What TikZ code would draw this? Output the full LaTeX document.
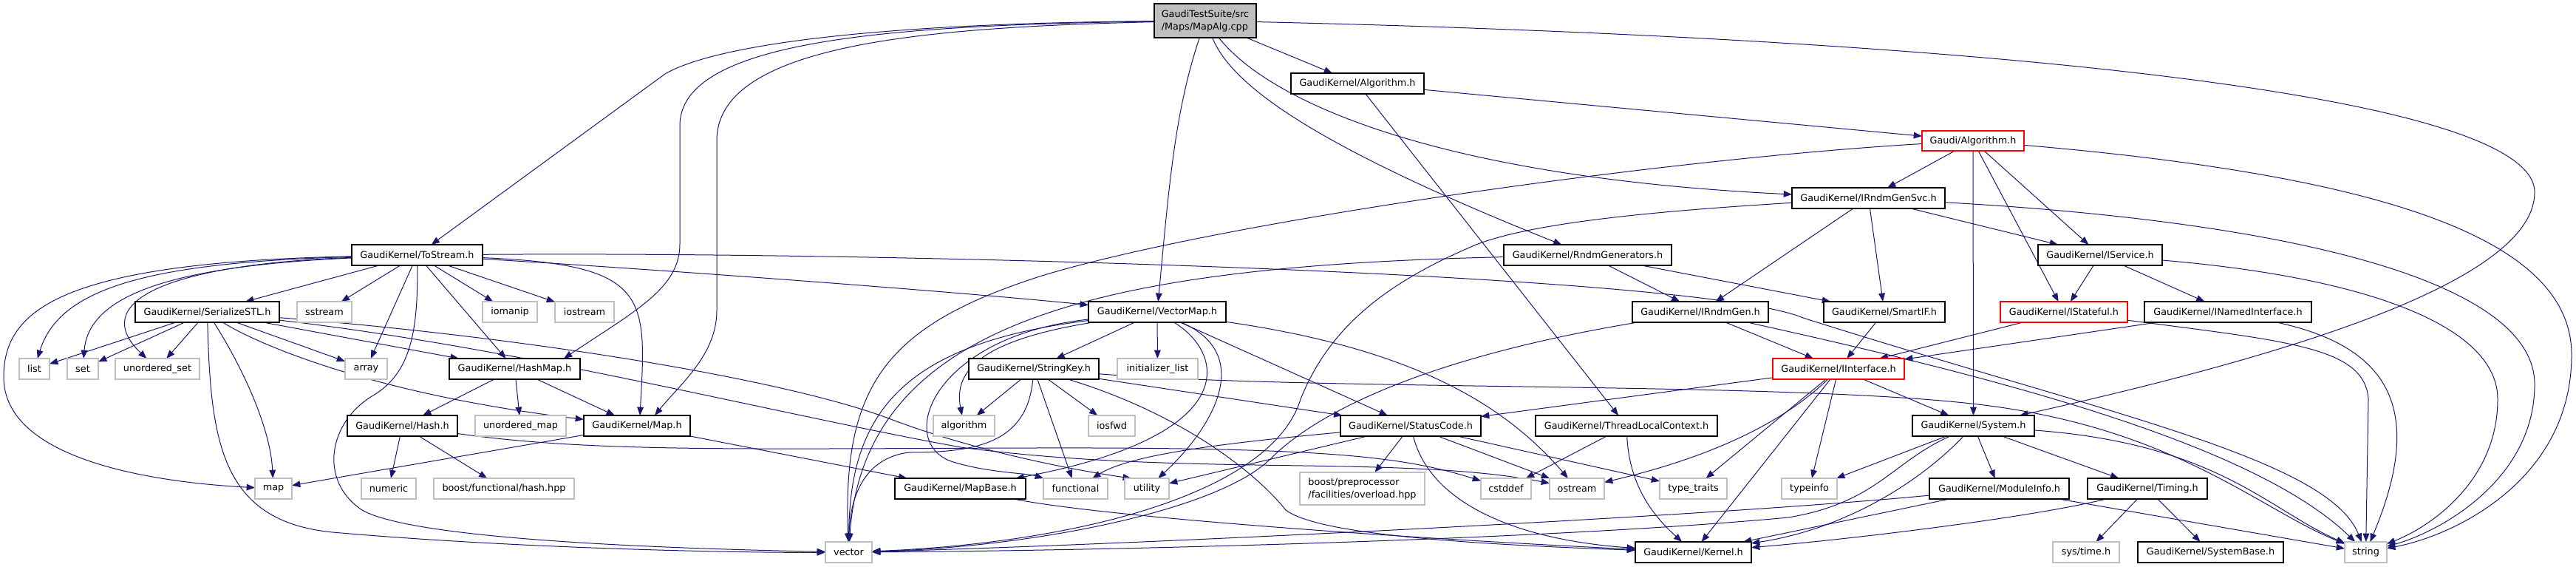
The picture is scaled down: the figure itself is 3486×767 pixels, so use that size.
\documentclass[tikz,border=0pt]{standalone}
\usepackage{fontspec}
\setmainfont{DejaVu Sans}
\usetikzlibrary{arrows.meta,backgrounds,calc}
\definecolor{edgec}{HTML}{191970}
\definecolor{greyb}{HTML}{BFBFBF}
\newcommand\gnode[7]{\node[#2, minimum width={(#5-#3)*0.75pt}, minimum height={(#6-#4)*0.75pt}] (#1) at ({(#3+#5)/2},{(#4+#6)/2}) {#7};}
\tikzset{
  nbase/.style={rectangle, inner sep=0pt, outer sep=0pt, line width=1.1pt, font=\fontsize{9.6}{12.75}\selectfont, text=black},
  docnode/.style={nbase, draw=black, fill=white},
  sysnode/.style={nbase, draw=greyb, fill=white},
  trnode/.style={nbase, draw=red, fill=white},
  rootnode/.style={nbase, draw=black, fill=greyb, align=left},
  dep/.style={draw=edgec, line width=0.75pt, -{Triangle[length=8.5pt,width=6.5pt]}},
}
\begin{document}
\begin{tikzpicture}[x=0.75pt,y=-0.75pt]
\useasboundingbox (0,0) rectangle (3486,767);
\gnode{MA}{rootnode}{1562}{5}{1700}{51}{GaudiTestSuite/src\\/Maps/MapAlg.cpp}
\gnode{GKA}{docnode}{1747}{99}{1927}{127}{GaudiKernel/Algorithm.h}
\gnode{GA}{trnode}{2601}{177}{2739}{204}{Gaudi/Algorithm.h}
\gnode{RGS}{docnode}{2425}{254}{2632}{282}{GaudiKernel/IRndmGenSvc.h}
\gnode{ISV}{docnode}{2758}{331}{2926}{359}{GaudiKernel/IService.h}
\gnode{TS}{docnode}{476}{331}{653}{359}{GaudiKernel/ToStream.h}
\gnode{RG}{docnode}{2035}{331}{2262}{359}{GaudiKernel/RndmGenerators.h}
\gnode{SER}{docnode}{183}{408}{378}{436}{GaudiKernel/SerializeSTL.h}
\gnode{sstream}{sysnode}{402}{408}{476}{436}{sstream}
\gnode{iomanip}{sysnode}{653}{408}{727}{436}{iomanip}
\gnode{iostream}{sysnode}{751}{408}{831}{436}{iostream}
\gnode{VM}{docnode}{1473}{408}{1659}{436}{GaudiKernel/VectorMap.h}
\gnode{IRG}{docnode}{2209}{408}{2393}{436}{GaudiKernel/IRndmGen.h}
\gnode{SIF}{docnode}{2468}{408}{2632}{436}{GaudiKernel/SmartIF.h}
\gnode{IST}{trnode}{2707}{408}{2879}{436}{GaudiKernel/IStateful.h}
\gnode{INI}{docnode}{2902}{408}{3128}{436}{GaudiKernel/INamedInterface.h}
\gnode{list}{sysnode}{26}{485}{67}{513}{list}
\gnode{set}{sysnode}{91}{485}{133}{513}{set}
\gnode{uset}{sysnode}{156}{485}{270}{513}{unordered\_set}
\gnode{array}{sysnode}{467}{485}{524}{513}{array}
\gnode{HM}{docnode}{608}{485}{785}{513}{GaudiKernel/HashMap.h}
\gnode{SK}{docnode}{1311}{485}{1487}{513}{GaudiKernel/StringKey.h}
\gnode{ilist}{sysnode}{1512}{485}{1621}{513}{initializer\_list}
\gnode{II}{trnode}{2399}{485}{2577}{513}{GaudiKernel/IInterface.h}
\gnode{Hash}{docnode}{470}{562}{619}{590}{GaudiKernel/Hash.h}
\gnode{umap}{sysnode}{643}{562}{766}{590}{unordered\_map}
\gnode{Map}{docnode}{790}{562}{934}{590}{GaudiKernel/Map.h}
\gnode{algorithm}{sysnode}{1263}{562}{1346}{590}{algorithm}
\gnode{iosfwd}{sysnode}{1473}{562}{1536}{590}{iosfwd}
\gnode{SC}{docnode}{1814}{562}{2004}{590}{GaudiKernel/StatusCode.h}
\gnode{TLC}{docnode}{2078}{562}{2324}{590}{GaudiKernel/ThreadLocalContext.h}
\gnode{SYS}{docnode}{2588}{562}{2753}{590}{GaudiKernel/System.h}
\gnode{map}{sysnode}{345}{647}{395}{675}{map}
\gnode{numeric}{sysnode}{489}{647}{563}{675}{numeric}
\gnode{bhash}{sysnode}{587}{647}{777}{675}{boost/functional/hash.hpp}
\gnode{MB}{docnode}{1211}{647}{1388}{675}{GaudiKernel/MapBase.h}
\gnode{functional}{sysnode}{1412}{647}{1499}{675}{functional}
\gnode{utility}{sysnode}{1522}{647}{1582}{675}{utility}
\gnode{bpp}{sysnode,align=left}{1759}{639}{1928}{683}{boost/preprocessor\\/facilities/overload.hpp}
\gnode{cstddef}{sysnode}{2004}{647}{2072}{675}{cstddef}
\gnode{ostream}{sysnode}{2097}{647}{2171}{675}{ostream}
\gnode{ttraits}{sysnode}{2246}{647}{2337}{675}{type\_traits}
\gnode{typeinfo}{sysnode}{2411}{647}{2486}{675}{typeinfo}
\gnode{MI}{docnode}{2611}{647}{2800}{675}{GaudiKernel/ModuleInfo.h}
\gnode{TIM}{docnode}{2825}{647}{2987}{675}{GaudiKernel/Timing.h}
\gnode{vector}{sysnode}{1117}{733}{1180}{761}{vector}
\gnode{KER}{docnode}{2213}{733}{2370}{761}{GaudiKernel/Kernel.h}
\gnode{systime}{sysnode}{2778}{733}{2868}{761}{sys/time.h}
\gnode{SB}{docnode}{2893}{733}{3090}{761}{GaudiKernel/SystemBase.h}
\gnode{string}{sysnode}{3173}{733}{3230}{761}{string}
\begin{scope}[on background layer]
\fill[white] (0,0) rectangle (3486,767);
% MapAlg.cpp
\draw[dep] (MA) .. controls (1150,32) and (960,65) .. (900,100) -- (TS);
\draw[dep] (MA) .. controls (1200,34) and (920,55) .. (920,170) -- (920,330) .. controls (920,390) and (860,420) .. ($(HM.north east)+(-22,0)$);
\draw[dep] (MA) .. controls (1250,37) and (970,60) .. (970,190) -- (970,420) .. controls (970,480) and (920,520) .. ($(Map.north)+(24,0)$);
\draw[dep] (MA) .. controls (1590,150) and (1582,250) .. (VM);
\draw[dep] (MA) .. controls (1665,110) and (1760,190) .. (RG);
\draw[dep] (MA) .. controls (1720,140) and (1950,240) .. (RGS);
\draw[dep] (MA) -- (GKA);
\draw[dep] (MA) .. controls (2600,50) and (3430,120) .. (3430,260) .. controls (3430,380) and (3100,480) .. (SYS);
% GaudiKernel/Algorithm.h
\draw[dep] (GKA) -- (GA);
\draw[dep] (GKA) -- (TLC);
% Gaudi/Algorithm.h
\draw[dep] (GA) -- (RGS);
\draw[dep] (GA) -- (ISV);
\draw[dep] (GA) -- (IST);
\draw[dep] (GA) -- (SYS);
\draw[dep] (GA) .. controls (2250,215) and (1650,300) .. (1410,373) .. controls (1200,440) and (1140,520) .. (vector);
\draw[dep] (GA) .. controls (3250,240) and (3480,330) .. (3480,480) .. controls (3480,650) and (3320,725) .. (string);
% IRndmGenSvc
\draw[dep] (RGS) -- (IRG);
\draw[dep] (RGS) -- (ISV);
\draw[dep] (RGS) -- (SIF);
\draw[dep] (RGS) .. controls (2250,285) and (2080,300) .. (2000,330) .. controls (1880,380) and (1800,440) .. (1760,540) .. controls (1720,670) and (1450,735) .. (vector);
\draw[dep] (RGS) .. controls (3100,300) and (3430,380) .. (3430,520) .. controls (3430,650) and (3300,720) .. (string);
% IService
\draw[dep] (ISV) -- (IST);
\draw[dep] (ISV) -- (INI);
\draw[dep] (ISV) .. controls (3200,375) and (3380,440) .. (3380,540) .. controls (3380,650) and (3290,712) .. (string);
% IStateful / INamedInterface
\draw[dep] (IST) -- (II);
\draw[dep] (IST) .. controls (3100,462) and (3200,470) .. (3205,540) -- (string);
\draw[dep] (INI) -- (II);
\draw[dep] (INI) .. controls (3240,470) and (3280,560) .. (string);
% ToStream
\draw[dep] (TS) -- (SER);
\draw[dep] (TS) -- (sstream);
\draw[dep] (TS) -- (iomanip);
\draw[dep] (TS) -- (iostream);
\draw[dep] (TS) -- (array);
\draw[dep] (TS) -- (HM);
\draw[dep] (TS) .. controls (880,358) and (875,400) .. ($(Map.north)+(4,0)$);
\draw[dep] (TS) .. controls (900,365) and (1300,395) .. (VM);
\draw[dep] (TS) .. controls (1200,340) and (2300,370) .. (2440,430) .. controls (2850,560) and (3150,620) .. (string);
\draw[dep] (TS) .. controls (200,355) and (80,390) .. (list);
\draw[dep] (TS) .. controls (230,360) and (120,400) .. (set);
\draw[dep] (TS) .. controls (220,358) and (120,410) .. (uset);
\draw[dep] (TS) .. controls (80,355) and (5,420) .. (5,510) .. controls (5,620) and (200,652) .. (map);
\draw[dep] (TS) .. controls (566,450) and (555,505) .. (505,535) .. controls (445,570) and (430,650) .. (490,690) .. controls (560,730) and (900,742) .. (vector);
% SerializeSTL
\draw[dep] (SER) -- (list);
\draw[dep] (SER) -- (set);
\draw[dep] (SER) -- (uset);
\draw[dep] (SER) -- (array);
\draw[dep] (SER) -- (HM);
\draw[dep] (SER) .. controls (285,600) and (300,705) .. (450,720) .. controls (700,742) and (1000,748) .. (vector);
\draw[dep] (SER) .. controls (330,500) and (366,580) .. (map);
\draw[dep] (SER) .. controls (330,455) and (480,530) .. (Map);
\draw[dep] (SER) .. controls (700,455) and (1050,510) .. (1200,565) .. controls (1330,615) and (1480,640) .. ($(utility.north west)+(9,0)$);
\draw[dep] (SER) .. controls (700,470) and (1050,560) .. (1300,605) .. controls (1600,645) and (1900,615) .. (ostream);
% HashMap / Hash / Map / MapBase
\draw[dep] (HM) -- (Hash);
\draw[dep] (HM) -- (umap);
\draw[dep] (HM) -- (Map);
\draw[dep] (Hash) -- (numeric);
\draw[dep] (Hash) -- (bhash);
\draw[dep] (Hash) .. controls (800,612) and (1000,607) .. (1400,606) .. controls (1800,605) and (1900,618) .. (cstddef);
\draw[dep] (Map) -- (map);
\draw[dep] (Map) -- (MB);
\draw[dep] (MB) .. controls (1500,700) and (1900,728) .. (KER);
% VectorMap
\draw[dep] (VM) -- (SK);
\draw[dep] (VM) -- (ilist);
\draw[dep] (VM) .. controls (1330,460) and (1290,500) .. (algorithm);
\draw[dep] (VM) .. controls (1260,455) and (1210,600) .. (1290,625) .. controls (1340,640) and (1390,640) .. (functional);
\draw[dep] (VM) .. controls (1220,465) and (1150,560) .. (vector);
\draw[dep] (VM) .. controls (1660,480) and (1680,590) .. (MB);
\draw[dep] (VM) .. controls (1700,480) and (1640,580) .. (utility);
\draw[dep] (VM) -- (SC);
\draw[dep] (VM) .. controls (1900,470) and (2030,540) .. (ostream);
% StringKey
\draw[dep] (SK) -- (algorithm);
\draw[dep] (SK) -- (iosfwd);
\draw[dep] (SK) -- (functional);
\draw[dep] (SK) .. controls (1390,600) and (1320,612) .. (1230,612) .. controls (1165,620) and (1150,680) .. (vector);
\draw[dep] (SK) .. controls (1600,560) and (1700,640) .. (1740,690) .. controls (1780,720) and (1950,735) .. (KER);
\draw[dep] (SK) -- (SC);
\draw[dep] (SK) .. controls (1800,530) and (2450,515) .. (2700,550) .. controls (2950,585) and (3060,690) .. (string);
% RndmGenerators
\draw[dep] (RG) -- (IRG);
\draw[dep] (RG) -- (SIF);
\draw[dep] (RG) .. controls (1500,360) and (1170,430) .. (vector);
% IRndmGen / SmartIF
\draw[dep] (IRG) -- (II);
\draw[dep] (IRG) .. controls (1950,480) and (1790,550) .. (1720,620) .. controls (1650,690) and (1400,740) .. (vector);
\draw[dep] (IRG) .. controls (2700,510) and (3050,600) .. (string);
\draw[dep] (SIF) -- (II);
% IInterface
\draw[dep] (II) -- (SC);
\draw[dep] (II) .. controls (2420,565) and (2330,615) .. (ostream);
\draw[dep] (II) -- (ttraits);
\draw[dep] (II) -- (KER);
\draw[dep] (II) -- (typeinfo);
\draw[dep] (II) -- (SYS);
% StatusCode
\draw[dep] (SC) -- (bpp);
\draw[dep] (SC) -- (ostream);
\draw[dep] (SC) -- (ttraits);
\draw[dep] (SC) -- (utility);
\draw[dep] (SC) .. controls (1650,600) and (1530,615) .. (functional);
\draw[dep] (SC) .. controls (1935,680) and (2050,730) .. (KER);
% ThreadLocalContext
\draw[dep] (TLC) -- (cstddef);
\draw[dep] (TLC) .. controls (2205,660) and (2240,700) .. (KER);
% System
\draw[dep] (SYS) -- (typeinfo);
\draw[dep] (SYS) -- (MI);
\draw[dep] (SYS) -- (TIM);
\draw[dep] (SYS) .. controls (2600,650) and (2500,715) .. (KER);
\draw[dep] (SYS) .. controls (2560,625) and (2540,680) .. (2420,700) .. controls (2100,730) and (1500,745) .. (vector);
\draw[dep] (SYS) .. controls (3000,600) and (3070,690) .. (string);
% ModuleInfo / Timing
\draw[dep] (MI) -- (KER);
\draw[dep] (MI) -- (string);
\draw[dep] (MI) .. controls (2300,700) and (1500,738) .. (vector);
\draw[dep] (TIM) -- (systime);
\draw[dep] (TIM) -- (SB);
\draw[dep] (TIM) .. controls (2750,700) and (2500,730) .. (KER);
\end{scope}
\end{tikzpicture}
\end{document}
